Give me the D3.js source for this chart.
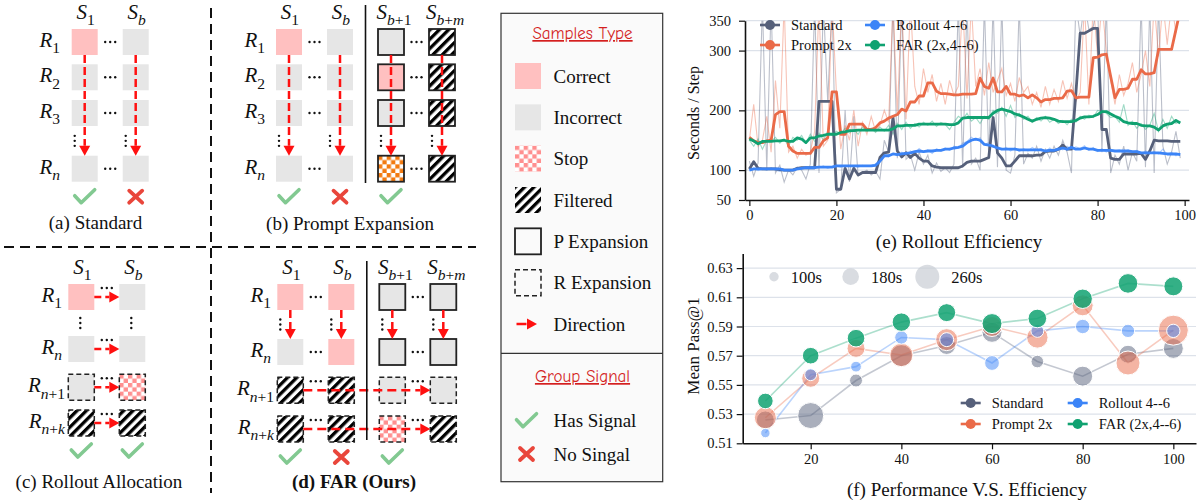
<!DOCTYPE html>
<html lang="en">
<head>
<meta charset="UTF-8">
<title>FAR rollout figure</title>
<script src="https://cdn.jsdelivr.net/npm/d3@7"></script>
<style>
  body { margin: 0; background: #fff; }
  svg text { font-family: "Liberation Serif", "Times New Roman", serif; }
</style>
</head>
<body>
<div id="container"></div>
<script>
const width = 1204, height = 500;

// ---------- diagram data ----------
// cell code: c correct, i incorrect, s stop (pink), o stop (orange), f filtered, w empty
// suffix: '|' solid border (P expansion), ':' dashed border (R expansion)
const aCols = [['S', '1'], ['S', 'b']];
const aRows = [['R', '1'], ['R', '2'], ['R', '3'], ['R', 'n']];
const aCells = [['c', 'i'], ['i', 'i'], ['i', 'i'], ['i', 'i']];
const aSignals = ['yes', 'no'];

const bCols = [['S', '1'], ['S', 'b'], ['S', 'b+1'], ['S', 'b+m']];
const bRows = [['R', '1'], ['R', '2'], ['R', '3'], ['R', 'n']];
const bCells = [
  ['c', 'i', 'i|', 'f|'],
  ['i', 'i', 'c|', 'f|'],
  ['i', 'i', 'i|', 'f|'],
  ['i', 'i', 'o|', 'f|']
];
const bSignals = ['yes', 'no', 'yes', ''];

const cCols = [['S', '1'], ['S', 'b']];
const cRows = [['R', '1'], ['R', 'n'], ['R', 'n+1'], ['R', 'n+k']];
const cCells = [['c', 'i'], ['i', 'i'], ['i:', 's:'], ['f:', 'f:']];
const cSignals = ['yes', 'yes'];

const dCols = [['S', '1'], ['S', 'b'], ['S', 'b+1'], ['S', 'b+m']];
const dRows = [['R', '1'], ['R', 'n'], ['R', 'n+1'], ['R', 'n+k']];
const dCells = [
  ['c', 'c', 'i|', 'i|'],
  ['i', 'c', 'i|', 'i|'],
  ['f:', 'f:', 'i:', 'i:'],
  ['f:', 'f:', 's:', 'f:']
];
const dSignals = ['yes', 'no', 'yes', ''];

const sampleTypes = ['Correct', 'Incorrect', 'Stop', 'Filtered', 'P Expansion', 'R Expansion', 'Direction'];
const sampleIcons = ['c', 'i', 's', 'f', 'w|', 'w:', 'arrow'];
const signalTypes = ['Has Signal', 'No Singal'];
const signalIcons = ['yes', 'no'];

// ---------- chart data ----------
const seriesNames = ['Standard', 'Prompt 2x', 'Rollout 4--6', 'FAR (2x,4--6)'];
const seriesColors = ['#56607a', '#ea6a48', '#3b84f7', '#10a271'];

// (e) seconds per step, raw and smoothed, steps 0..99
const stdRaw = [115, 90, 112, 380, 100, 380, 95, 108, 80, 100, 92, 105, 100, 85, 110, 380, 95, 380, 215, 380,
  62, 68, 200, 80, 190, 90, 96, 100, 92, 98, 85, 150, 130, 380, 120, 380, 118, 125, 100, 130,
  110, 125, 95, 112, 98, 104, 96, 110, 380, 104, 380, 110, 120, 100, 380, 118, 380, 105, 380, 100,
  95, 125, 380, 110, 128, 120, 140, 115, 135, 120, 140, 125, 150, 130, 95, 380, 325, 380, 335, 340,
  380, 130, 380, 95, 125, 110, 140, 100, 130, 115, 380, 105, 380, 95, 380, 140, 110, 130, 165, 120];
const stdSmooth = [102, 114, 103, 102, 102, 102, 102, 101, 100, 100, 100, 103, 104, 104, 104, 104, 215, 215, 215, 215,
  68, 68, 103, 85, 103, 92, 96, 96, 96, 96, 121, 129, 130, 188, 132, 122, 129, 121, 128, 120,
  115, 115, 107, 105, 104, 104, 104, 104, 104, 107, 113, 115, 115, 115, 118, 121, 188, 129, 120, 107,
  107, 115, 124, 124, 124, 124, 125, 125, 131, 132, 132, 135, 142, 135, 135, 227, 329, 329, 333, 337,
  337, 168, 168, 120, 118, 118, 127, 127, 127, 127, 128, 118, 132, 150, 149, 149, 149, 148, 148, 148];

const promptRaw = [150, 210, 140, 150, 190, 130, 250, 170, 380, 130, 140, 120, 135, 125, 130, 165, 380, 140, 150, 380,
  230, 135, 175, 150, 200, 140, 180, 160, 190, 165, 175, 200, 180, 380, 195, 380, 185, 380, 240, 210,
  270, 230, 260, 215, 245, 210, 250, 225, 240, 380, 220, 380, 240, 270, 225, 280, 230, 250, 270, 225,
  245, 215, 255, 230, 240, 210, 230, 205, 240, 210, 235, 215, 250, 220, 245, 215, 230, 380, 210, 380,
  290, 380, 300, 250, 210, 260, 225, 245, 280, 230, 260, 300, 240, 380, 290, 380, 310, 380, 330, 380];
const promptSmooth = [155, 149, 146, 146, 149, 150, 193, 198, 198, 140, 132, 128, 128, 128, 128, 138, 138, 149, 154, 231,
  231, 160, 160, 177, 177, 177, 177, 168, 168, 171, 179, 182, 187, 190, 193, 202, 199, 214, 214, 224,
  224, 246, 246, 232, 228, 228, 227, 226, 226, 227, 227, 227, 228, 254, 240, 237, 254, 231, 231, 240,
  227, 227, 224, 226, 221, 226, 221, 214, 218, 218, 220, 220, 221, 232, 233, 221, 222, 222, 222, 288,
  289, 293, 294, 257, 221, 235, 235, 237, 252, 252, 268, 261, 261, 263, 302, 302, 302, 302, 335, 368];

const rolloutRaw = [100, 103, 99, 102, 100, 104, 100, 98, 101, 99, 100, 104, 102, 106, 103, 105, 104, 107, 103, 106,
  107, 105, 108, 106, 107, 105, 108, 106, 108, 110, 118, 125, 122, 128, 124, 130, 126, 132, 128, 136,
  130, 134, 128, 136, 132, 137, 133, 140, 137, 145, 148, 155, 150, 154, 143, 146, 138, 140, 134, 138,
  132, 137, 131, 136, 132, 138, 133, 136, 130, 137, 132, 138, 134, 140, 135, 139, 136, 141, 133, 138,
  131, 136, 130, 135, 132, 134, 129, 134, 130, 133, 127, 132, 128, 131, 127, 135, 126, 130, 124, 128];
const rolloutSmooth = [100, 102, 102, 102, 102, 102, 102, 102, 100, 100, 100, 102, 103, 104, 104, 104, 105, 105, 105, 105,
  107, 107, 107, 107, 107, 107, 107, 107, 107, 108, 115, 124, 124, 127, 126, 127, 128, 129, 131, 132,
  131, 132, 132, 133, 133, 135, 135, 137, 138, 140, 146, 150, 152, 150, 143, 142, 140, 137, 135, 135,
  135, 135, 134, 134, 134, 134, 134, 134, 132, 133, 133, 135, 137, 135, 138, 135, 135, 137, 135, 135,
  133, 133, 133, 133, 132, 132, 132, 132, 131, 131, 129, 129, 129, 129, 129, 128, 127, 127, 127, 126];

const farRaw = [150, 140, 152, 135, 150, 148, 155, 145, 152, 140, 155, 150, 158, 145, 160, 148, 162, 150, 165, 158,
  165, 160, 170, 162, 168, 160, 172, 165, 170, 163, 172, 165, 175, 160, 178, 168, 180, 170, 178, 172,
  180, 175, 182, 173, 180, 176, 168, 180, 190, 185, 195, 182, 188, 178, 190, 185, 200, 195, 205, 190,
  208, 188, 195, 185, 190, 180, 188, 182, 190, 180, 185, 178, 183, 176, 185, 180, 190, 185, 192, 188,
  200, 198, 195, 188, 190, 180, 210, 175, 182, 170, 178, 168, 175, 195, 165, 185, 170, 190, 178, 182];
const farSmooth = [152, 149, 144, 148, 148, 148, 149, 149, 150, 148, 148, 154, 152, 146, 154, 154, 157, 158, 160, 160,
  160, 163, 164, 166, 166, 167, 167, 167, 167, 167, 167, 167, 167, 169, 174, 174, 175, 175, 175, 177,
  177, 177, 177, 177, 177, 177, 176, 176, 179, 187, 188, 188, 188, 188, 188, 188, 195, 200, 202, 200,
  198, 194, 192, 189, 185, 182, 185, 187, 188, 187, 185, 182, 181, 181, 181, 183, 187, 189, 189, 190,
  193, 198, 198, 194, 190, 187, 181, 179, 178, 178, 175, 174, 174, 172, 167, 174, 177, 178, 183, 179];

// (f) mean pass@1 against budget, bubble size = seconds
const budgets = [10, 20, 30, 40, 50, 60, 70, 80, 90, 100];
const stdPass = [0.526, 0.529, 0.553, 0.570, 0.577, 0.586, 0.566, 0.556, 0.571, 0.575];
const promptPass = [0.5275, 0.5545, 0.575, 0.5705, 0.581, 0.590, 0.5825, 0.6045, 0.565, 0.5875];
const rolloutPass = [0.517, 0.557, 0.5625, 0.5825, 0.581, 0.565, 0.587, 0.590, 0.587, 0.587];
const farPass = [0.539, 0.570, 0.582, 0.593, 0.5995, 0.592, 0.5955, 0.609, 0.6195, 0.6175];
const stdSec = [194, 282, 139, 238, 194, 216, 135, 216, 194, 216];
const promptSec = [238, 194, 194, 253, 238, 216, 231, 227, 260, 326];
const rolloutSec = [100, 128, 115, 143, 150, 159, 139, 155, 143, 143];
const farSec = [168, 179, 190, 199, 194, 216, 201, 210, 212, 205];
const sizeLegend = [100, 180, 260];

// ---------- svg ----------
const svg = d3.select('#container').append('svg')
  .attr('width', width)
  .attr('height', height);

const defs = svg.append('defs');

function checker(id, color) {
  const p = defs.append('pattern').attr('id', id)
    .attr('patternUnits', 'objectBoundingBox')
    .attr('patternContentUnits', 'objectBoundingBox')
    .attr('width', 1 / 3).attr('height', 1 / 3);
  p.append('rect').attr('width', 1 / 3).attr('height', 1 / 3).attr('fill', '#fff');
  p.append('rect').attr('width', 1 / 6).attr('height', 1 / 6).attr('fill', color);
  p.append('rect').attr('x', 1 / 6).attr('y', 1 / 6).attr('width', 1 / 6).attr('height', 1 / 6).attr('fill', color);
}
checker('chkPink', '#ff8f8f');
checker('chkOrange', '#f27a10');

const hatch = defs.append('pattern').attr('id', 'hatch')
  .attr('patternUnits', 'userSpaceOnUse')
  .attr('width', 6.6).attr('height', 6.6)
  .attr('patternTransform', 'rotate(45)');
hatch.append('rect').attr('width', 6.6).attr('height', 6.6).attr('fill', '#fff');
hatch.append('rect').attr('width', 3.3).attr('height', 6.6).attr('fill', '#000');

const fills = { c: '#ffc0c0', i: '#e6e6e6', s: 'url(#chkPink)', o: 'url(#chkOrange)', f: 'url(#hatch)', w: '#fafafa' };
const CELL = 26;
const RED = '#ff1010';

function mathLabel(g, x, y, parts, anchor, size) {
  const t = g.append('text').attr('x', x).attr('y', y)
    .attr('text-anchor', anchor).attr('fill', '#111').attr('font-size', size);
  t.append('tspan').attr('font-style', 'italic').text(parts[0]);
  parts[1].split('').forEach((ch, k) => {
    t.append('tspan')
      .attr('font-size', size * 0.74)
      .attr('dy', k === 0 ? size * 0.3 : null)
      .attr('font-style', /[a-z]/.test(ch) ? 'italic' : 'normal')
      .text(ch);
  });
}

function cell(g, x, y, code) {
  const r = g.append('rect').attr('x', x).attr('y', y)
    .attr('width', CELL).attr('height', CELL)
    .attr('fill', fills[code[0]]);
  if (code[1] === '|') r.attr('stroke', '#222').attr('stroke-width', 1.8);
  if (code[1] === ':') r.attr('stroke', '#222').attr('stroke-width', 1.5).attr('stroke-dasharray', '5,3');
}

function arrow(g, x1, y1, x2, y2, dash) {
  const len = Math.hypot(x2 - x1, y2 - y1);
  const ux = (x2 - x1) / len, uy = (y2 - y1) / len;
  const bx = x2 - ux * 10, by = y2 - uy * 10;
  g.append('line').attr('x1', x1).attr('y1', y1).attr('x2', bx).attr('y2', by)
    .attr('stroke', RED).attr('stroke-width', 2.5).attr('stroke-dasharray', dash);
  g.append('path')
    .attr('d', `M${x2},${y2}L${bx - uy * 5.5},${by + ux * 5.5}L${bx + uy * 5.5},${by - ux * 5.5}Z`)
    .attr('fill', RED);
}

function hdots(g, x, y) {
  g.selectAll(null).data([-5, 0, 5]).join('circle')
    .attr('cx', d => x + d).attr('cy', y).attr('r', 1.2).attr('fill', '#111');
}
function vdots(g, x, y) {
  g.selectAll(null).data([-5, 0, 5]).join('circle')
    .attr('cx', x).attr('cy', d => y + d).attr('r', 1.2).attr('fill', '#111');
}

function signal(g, x, y, kind) {
  if (kind === 'yes') {
    g.append('path').attr('d', `M${x - 10},${y - 1}L${x - 3.5},${y + 6}L${x + 10},${y - 7}`)
      .attr('fill', 'none').attr('stroke', '#82c991').attr('stroke-width', 3.6)
      .attr('stroke-linecap', 'round').attr('stroke-linejoin', 'round');
  } else if (kind === 'no') {
    g.append('path').attr('d', `M${x - 6.5},${y - 6}L${x + 6.5},${y + 6}M${x + 6.5},${y - 6}L${x - 6.5},${y + 6}`)
      .attr('stroke', '#e9463b').attr('stroke-width', 3.8).attr('stroke-linecap', 'round');
  }
}

// ---------- diagram panels ----------
const panels = [
  { cols: aCols, rows: aRows, cells: aCells, signals: aSignals, caption: '(a) Standard', bold: false,
    x0: 71.7, rowTop: [29, 64.3, 100, 155.7], labelX: 63, down: 3, vdotRows: [2, 3], vdotDx: 3,
    across: [], far: [], sep: null, capX: 95.5, capY: 229 },
  { cols: bCols, rows: bRows, cells: bCells, signals: bSignals, caption: '(b) Prompt Expansion', bold: false,
    x0: 276, rowTop: [29, 64.3, 100, 155.7], labelX: 268, down: 3, vdotRows: [2, 3], vdotDx: 3,
    across: [], far: [], sep: [5, 183], capX: 350, capY: 230 },
  { cols: cCols, rows: cRows, cells: cCells, signals: cSignals, caption: '(c) Rollout Allocation', bold: false,
    x0: 68.3, rowTop: [284, 336, 374.3, 410], labelX: 65, down: null, vdotRows: [0, 1], vdotDx: 12,
    across: [0, 1, 2, 3], far: [], sep: null, capX: 99, capY: 488 },
  { cols: dCols, rows: dRows, cells: dCells, signals: dSignals, caption: '(d) FAR (Ours)', bold: true,
    x0: 277.3, rowTop: [284, 339, 377.3, 416], labelX: 274, down: 1, vdotRows: [0, 1], vdotDx: 3,
    across: [], far: [2, 3], sep: [261, 440], capX: 354, capY: 488 }
];

const diagram = svg.append('g');

panels.forEach(p => {
  const g = diagram.append('g');
  const colX = d3.scaleLinear().domain([0, 1]).range([p.x0, p.x0 + 51]);
  const rowY = d3.scaleOrdinal().domain(d3.range(p.rows.length)).range(p.rowTop);
  const last = p.rows.length - 1;

  p.cols.forEach((c, j) => mathLabel(g, colX(j) + CELL / 2 + (c[1].length > 1 ? 3 : 1), p.rowTop[0] - 10, c, 'middle', 21));
  p.rows.forEach((r, i) => mathLabel(g, p.labelX - (r[1].length > 1 ? 0 : 3), rowY(i) + CELL / 2 + 5, r, 'end', 21));

  p.cells.forEach((row, i) => row.forEach((code, j) => cell(g, colX(j), rowY(i), code)));

  // dots between columns
  p.cells.forEach((row, i) => {
    const hasArrow = p.across.includes(i) || p.far.includes(i);
    const y = hasArrow ? rowY(i) + 4 : rowY(i) + CELL / 2;
    row.forEach((code, j) => {
      if (j === row.length - 1) return;
      if (p.sep && j === 1) return;
      hdots(g, colX(j) + CELL + (51 - CELL) / 2, y);
    });
  });
  // dots between rows
  const [r1, r2] = p.vdotRows;
  p.cols.forEach((c, j) => vdots(g, colX(j) + p.vdotDx, (rowY(r1) + CELL + rowY(r2)) / 2));

  if (p.down !== null) {
    p.cols.forEach((c, j) => arrow(g, colX(j) + CELL / 2, rowY(0) + CELL, colX(j) + CELL / 2, rowY(p.down), '8,4'));
  }
  p.across.forEach(i => arrow(g, colX(0) + CELL, rowY(i) + CELL / 2, colX(1), rowY(i) + CELL / 2, '7,4'));
  p.far.forEach(i => arrow(g, colX(0) + CELL, rowY(i) + CELL / 2, colX(3), rowY(i) + CELL / 2, '9,5'));

  if (p.sep) {
    const sx = (colX(1) + CELL + colX(2)) / 2;
    g.append('line').attr('x1', sx).attr('x2', sx).attr('y1', p.sep[0]).attr('y2', p.sep[1])
      .attr('stroke', '#111').attr('stroke-width', 1.6);
  }

  p.signals.forEach((s, j) => signal(g, colX(j) + CELL / 2, rowY(last) + CELL + 15, s));

  g.append('text').attr('x', p.capX).attr('y', p.capY)
    .attr('text-anchor', 'middle').attr('font-size', 19)
    .attr('font-weight', p.bold ? 'bold' : 'normal').attr('fill', '#111')
    .text(p.caption);
});

// panel separators
diagram.append('line').attr('x1', 211).attr('x2', 211).attr('y1', 8).attr('y2', 493)
  .attr('stroke', '#111').attr('stroke-width', 2).attr('stroke-dasharray', '10,6');
diagram.append('line').attr('x1', 4).attr('x2', 476).attr('y1', 247).attr('y2', 247)
  .attr('stroke', '#111').attr('stroke-width', 2).attr('stroke-dasharray', '10,6');

// ---------- samples legend ----------
const leg = svg.append('g');
leg.append('rect').attr('x', 501).attr('y', 13.3).attr('width', 161.7).attr('height', 468.4)
  .attr('fill', '#fafafa').attr('stroke', '#333').attr('stroke-width', 1.2);
leg.append('line').attr('x1', 501).attr('x2', 662.7).attr('y1', 353.3).attr('y2', 353.3)
  .attr('stroke', '#333').attr('stroke-width', 1.2);

const legTitle = (txt, y) => leg.append('text').attr('x', 582.5).attr('y', y)
  .attr('text-anchor', 'middle').attr('font-size', 17).attr('fill', '#d41f1f')
  .attr('text-decoration', 'underline')
  .style('font-family', '"Comic Sans MS","Comic Neue",Lato,sans-serif')
  .text(txt);
legTitle('Samples Type', 39);
legTitle('Group Signal', 382);

const legY = d3.scaleLinear().domain([0, 6]).range([76, 324]);
sampleTypes.forEach((name, k) => {
  const y = legY(k);
  const icon = sampleIcons[k];
  if (icon === 'arrow') {
    leg.append('line').attr('x1', 516.5).attr('x2', 526.5).attr('y1', y).attr('y2', y)
      .attr('stroke', RED).attr('stroke-width', 2.5);
    leg.append('path').attr('d', `M537,${y}L527,${y - 5.5}L527,${y + 5.5}Z`).attr('fill', RED);
  } else {
    cell(leg, 515, y - CELL / 2, icon);
  }
  leg.append('text').attr('x', 553.5).attr('y', y + 6.5).attr('font-size', 19).attr('fill', '#111').text(name);
});
signalTypes.forEach((name, k) => {
  const y = [420.7, 454][k];
  signal(leg, 526.5, y, signalIcons[k]);
  leg.append('text').attr('x', 553.5).attr('y', y + 6.5).attr('font-size', 19).attr('fill', '#111').text(name);
});

// ---------- shared chart helpers ----------
function styleAxis(g) {
  g.select('.domain').attr('stroke', '#111').attr('stroke-width', 1.6);
  g.selectAll('.tick line').attr('stroke', '#111').attr('stroke-width', 1.2);
  g.selectAll('.tick text').attr('font-size', 14.5).attr('fill', '#111')
    .style('font-family', '"Liberation Serif","Times New Roman",serif');
}

function lineLegend(g, x, y, name, color) {
  g.append('line').attr('x1', x).attr('x2', x + 20).attr('y1', y).attr('y2', y)
    .attr('stroke', color).attr('stroke-width', 2.6);
  g.append('circle').attr('cx', x + 10).attr('cy', y).attr('r', 5).attr('fill', color);
  g.append('text').attr('x', x + 31).attr('y', y + 5).attr('font-size', 14.5).attr('fill', '#111').text(name);
}

// ---------- (e) rollout efficiency ----------
const xE = d3.scaleLinear().domain([-1, 101]).range([745, 1189]);
const yE = d3.scaleLinear().domain([50, 350]).range([200, 20.7]);
const chartE = svg.append('g');

chartE.append('g').selectAll('line').data([100, 200, 300, 350]).join('line')
  .attr('x1', 745).attr('x2', 1189).attr('y1', d => yE(d)).attr('y2', d => yE(d))
  .attr('stroke', '#dde2ea').attr('stroke-width', 1.2);

defs.append('clipPath').attr('id', 'clipE').append('rect')
  .attr('x', 745).attr('y', 20.7).attr('width', 444).attr('height', 179.3);

const lineE = d3.line().x((d, i) => xE(i)).y(d => yE(d));
const rawSets = [stdRaw, promptRaw, rolloutRaw, farRaw];
const smoothSets = [stdSmooth, promptSmooth, rolloutSmooth, farSmooth];
const plotE = chartE.append('g').attr('clip-path', 'url(#clipE)');
rawSets.forEach((s, k) => plotE.append('path').datum(s)
  .attr('fill', 'none').attr('stroke', seriesColors[k]).attr('stroke-opacity', 0.4)
  .attr('stroke-width', 1.1).attr('d', lineE));
smoothSets.forEach((s, k) => plotE.append('path').datum(s)
  .attr('fill', 'none').attr('stroke', seriesColors[k]).attr('stroke-width', 2.8)
  .attr('stroke-linejoin', 'round').attr('d', lineE));

chartE.append('g').attr('transform', 'translate(0,200)')
  .call(d3.axisBottom(xE).tickValues([0, 20, 40, 60, 80, 100]).tickSize(6).tickSizeOuter(0).tickPadding(4))
  .call(styleAxis);
chartE.append('g').attr('transform', 'translate(745,0)')
  .call(d3.axisLeft(yE).tickValues([50, 100, 200, 300, 350]).tickSize(6).tickSizeOuter(0).tickPadding(8))
  .call(styleAxis);

chartE.append('text').attr('transform', 'translate(699,113) rotate(-90)')
  .attr('text-anchor', 'middle').attr('font-size', 16).attr('fill', '#111').text('Seconds / Step');
chartE.append('text').attr('x', 959).attr('y', 248)
  .attr('text-anchor', 'middle').attr('font-size', 19).attr('fill', '#111').text('(e) Rollout Efficiency');

// legend order: Standard, Prompt 2x in first column; Rollout, FAR in second
const legE = chartE.append('g');
[[760, 25], [760, 45], [865, 25], [865, 45]].forEach((pos, k) => lineLegend(legE, pos[0], pos[1], seriesNames[k], seriesColors[k]));

// ---------- (f) performance vs efficiency ----------
const xF = d3.scaleLinear().domain([5, 105]).range([742.7, 1196]);
const yF = d3.scaleLinear().domain([0.51, 0.64]).range([443.3, 253.5]);
const rF = d3.scaleLinear().domain([100, 260]).range([4.7, 12]);
const chartF = svg.append('g');
const yTicksF = [0.51, 0.53, 0.55, 0.57, 0.59, 0.61, 0.63];

chartF.append('g').selectAll('line').data(yTicksF.slice(1)).join('line')
  .attr('x1', 742.7).attr('x2', 1196).attr('y1', d => yF(d)).attr('y2', d => yF(d))
  .attr('stroke', '#dde2ea').attr('stroke-width', 1.2);

const passSets = [stdPass, promptPass, rolloutPass, farPass];
const secSets = [stdSec, promptSec, rolloutSec, farSec];
const bubbleOpacity = [0.5, 0.5, 0.5, 0.85];
const lineF = d3.line().x((d, i) => xF(budgets[i])).y(d => yF(d));

passSets.forEach((s, k) => {
  chartF.append('path').datum(s)
    .attr('fill', 'none').attr('stroke', seriesColors[k]).attr('stroke-opacity', 0.35)
    .attr('stroke-width', 1.6).attr('d', lineF);
});
passSets.forEach((s, k) => {
  chartF.append('g').selectAll('circle').data(s).join('circle')
    .attr('cx', (d, i) => xF(budgets[i]))
    .attr('cy', d => yF(d))
    .attr('r', (d, i) => rF(secSets[k][i]))
    .attr('fill', seriesColors[k]).attr('fill-opacity', bubbleOpacity[k])
    .attr('stroke', '#fff').attr('stroke-width', 1);
});

chartF.append('g').attr('transform', 'translate(0,443.3)')
  .call(d3.axisBottom(xF).tickValues([20, 40, 60, 80, 100]).tickSize(6).tickSizeOuter(0).tickPadding(4))
  .call(styleAxis);
chartF.append('g').attr('transform', 'translate(742.7,0)')
  .call(d3.axisLeft(yF).tickValues(yTicksF).tickFormat(d3.format('.2f')).tickSize(6).tickSizeOuter(0).tickPadding(4))
  .call(styleAxis);

chartF.append('text').attr('transform', 'translate(699,346) rotate(-90)')
  .attr('text-anchor', 'middle').attr('font-size', 17).attr('fill', '#111').text('Mean Pass@1');
chartF.append('text').attr('x', 967).attr('y', 496)
  .attr('text-anchor', 'middle').attr('font-size', 19).attr('fill', '#111').text('(f) Performance V.S. Efficiency');

// size legend
const sizeX = d3.scaleLinear().domain([0, 2]).range([774, 927.3]);
sizeLegend.forEach((s, k) => {
  chartF.append('circle').attr('cx', sizeX(k)).attr('cy', 276.7).attr('r', rF(s))
    .attr('fill', '#c9cdd4').attr('fill-opacity', 0.7);
  chartF.append('text').attr('x', sizeX(k) + rF(s) + 12).attr('y', 282.5)
    .attr('font-size', 16.5).attr('fill', '#111').text(s + 's');
});

const legF = chartF.append('g');
[[960.7, 403], [960.7, 424], [1067.7, 403], [1067.7, 424]].forEach((pos, k) => lineLegend(legF, pos[0], pos[1], seriesNames[k], seriesColors[k]));
</script>
</body>
</html>
